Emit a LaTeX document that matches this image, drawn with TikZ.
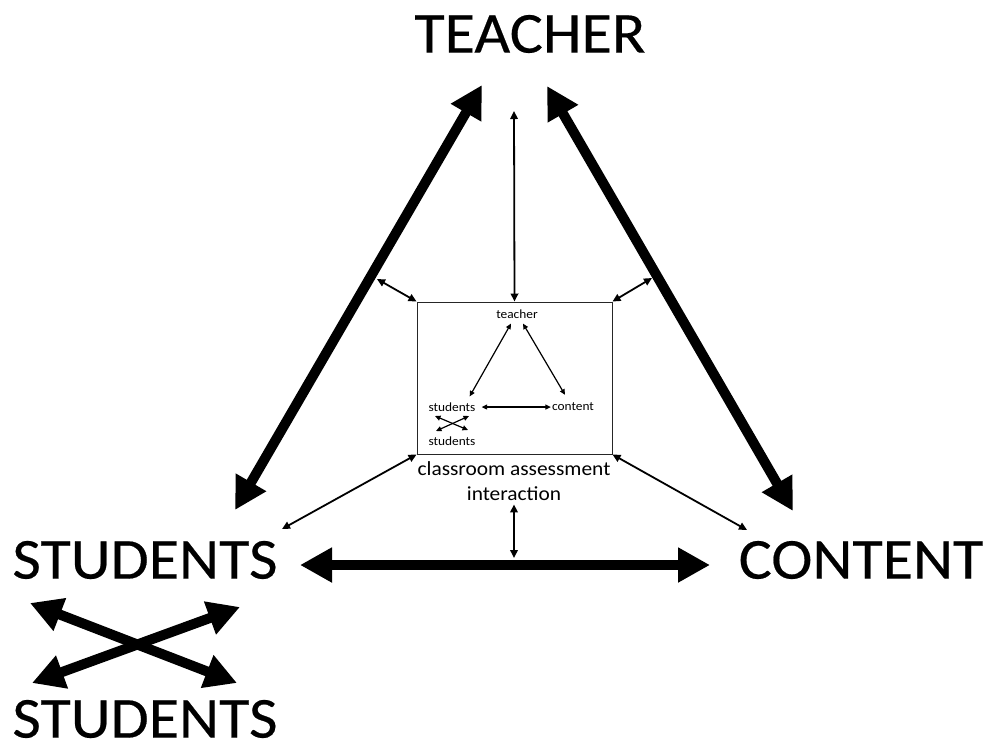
\documentclass[tikz,border=0pt]{standalone}
\usepackage{fontspec}
\setmainfont{Carlito}[FakeStretch=1.07]
\newfontfamily\partyfont{Carlito}[FakeStretch=1.07,FakeBold=0.35]
\usetikzlibrary{arrows.meta,positioning}
\tikzset{
  bigarrow/.style={line width=10pt,{Triangle[length=32pt,width=33pt]}-{Triangle[length=32pt,width=33pt]}},
  smallarrow/.style={line width=1.8pt,{Triangle[length=8pt,width=7.5pt]}-{Triangle[length=8pt,width=7.5pt]}},
  tinyarrow/.style={line width=1.2pt,{Triangle[length=5.5pt,width=5pt]}-{Triangle[length=5.5pt,width=5pt]}},
  party/.style={font=\partyfont\fontsize{58}{60}\selectfont,inner sep=0pt},
  sub/.style={font=\fontsize{12.5}{14}\selectfont,inner sep=0pt},
}

\begin{document}
\begin{tikzpicture}[x=1pt,y=-1pt]
  \useasboundingbox (0,0) rectangle (987,748);

  % the three parties (and the peers)
  \node[party] (teacher)  at (530,34)  {TEACHER};
  \node[party] (students) at (145,560) {STUDENTS};
  \node[party] (content)  at (861,560) {CONTENT};
  \node[party] (peers)    at (145,719) {STUDENTS};

  % ends of the big arrows
  \coordinate (ts) at (482,85);
  \coordinate (st) at (235,510);
  \coordinate (tc) at (547,86);
  \coordinate (ct) at (793,511);
  \coordinate (sc) at (300,565);
  \coordinate (cs) at (710,565);
  \coordinate (x1) at (30,603);
  \coordinate (x2) at (237,683);
  \coordinate (x3) at (240,607);
  \coordinate (x4) at (32,683);

  \path[bigarrow]
    (st) edge (ts)
    (tc) edge (ct)
    (sc) edge (cs)
    (x1) edge (x2)
    (x3) edge (x4);

  % the classroom in the middle
  \node[draw,black!85,line width=1pt,minimum width=195pt,minimum height=152pt,inner sep=0pt] (room) at (514.5,378) {};
  \node[font=\fontsize{20}{25}\selectfont,align=center,inner sep=4pt,anchor=north] (caption) at (514,457)
    {classroom assessment\\interaction};

  \node[sub] (tin) at (517,314) {teacher};
  \node[sub] (sin) at (452,407) {students};
  \node[sub] (cin) at (573,407) {content};
  \node[sub] (pin) at (452,441) {students};

  % ends of the small arrows
  \coordinate (tv) at (514,111);
  \coordinate (tl) at (377,279);
  \coordinate (tr) at (652,278);
  \coordinate (bl) at (282,529);
  \coordinate (br) at (747,530);
  \coordinate (bv) at (514,558);

  \path[smallarrow]
    (tv) edge (room.north)
    (tl) edge (room.north west)
    (tr) edge (room.north east)
    (bl) edge (room.south west)
    (br) edge (room.south east)
    (caption.south) edge (bv);

  \path[tinyarrow]
    ([shift={(-6,5)}]tin.south) edge ([shift={(-6,-6)}]sin.north east)
    ([shift={(6,5)}]tin.south) edge ([shift={(-8,-8)}]cin.north)
    ([xshift=6pt]sin.east) edge ([xshift=-1pt]cin.west)
    (435,416) edge (468,430)
    (469,416) edge (436,431);
\end{tikzpicture}
\end{document}
